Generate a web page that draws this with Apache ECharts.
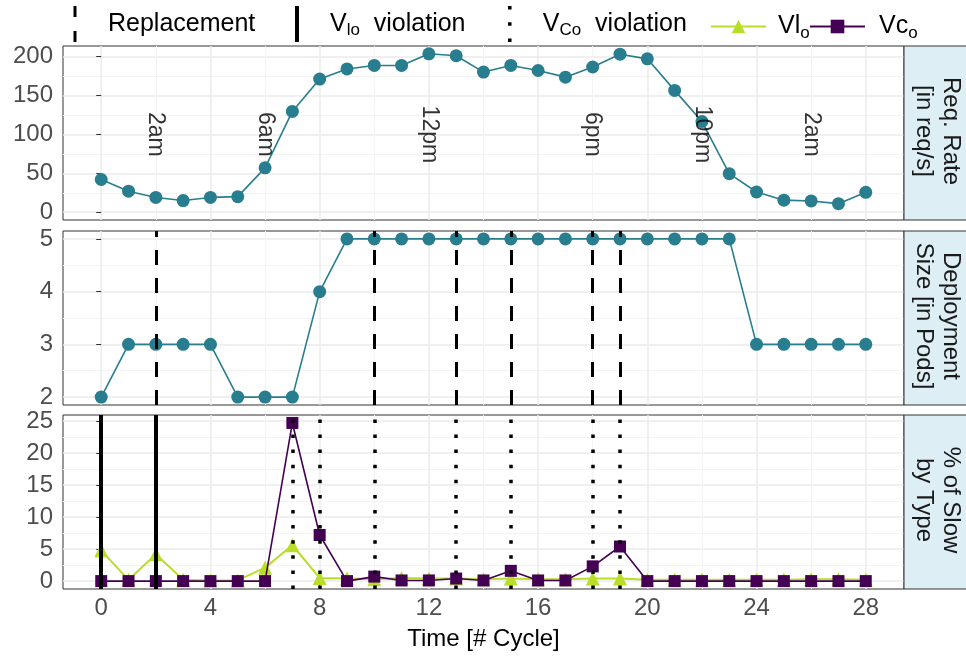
<!DOCTYPE html>
<html>
<head>
<meta charset="utf-8">
<script src="https://cdn.jsdelivr.net/npm/echarts@6/dist/echarts.min.js"></script>
<style>html,body{margin:0;padding:0;background:#fff}#c{width:966px;height:657px}</style>
</head>
<body>
<div id="c"></div>
<script>
// ---------- data ----------
const cycles = [0,1,2,3,4,5,6,7,8,9,10,11,12,13,14,15,16,17,18,19,20,21,22,23,24,25,26,27,28];
const reqRate = [42,27,19,15,19,20,57,129.5,171,184,188.5,188.5,203.5,201,180,188.5,182,173.5,186.5,203,197,156.5,116.5,49.5,26,15.5,14.5,11,25.5];
const deploySize = [2,3,3,3,3,2,2,2,4,5,5,5,5,5,5,5,5,5,5,5,5,5,5,5,3,3,3,3,3];
const slowVlo = [4.8,0.2,4.2,0.2,0.1,0.1,2.1,5.6,0.5,0.4,0.3,0.5,0.4,0.4,0.3,0.4,0.3,0.3,0.4,0.4,0.2,0.2,0.2,0.2,0.2,0.2,0.3,0.3,0.2];
const slowVco = [0,0,0,0,0,0,0,24.7,7.2,0,0.7,0.1,0.1,0.4,0.1,1.6,0.1,0.1,2.3,5.4,0,0,0,0,0,0,0,0,0];
const timeLabelX = [2,6,12,18,22,26];
const timeLabels = ['2am','6am','12pm','6pm','10pm','2am'];
const timeLabelY = 100;
const replacementX = [2,10,13,15,18,19];
const vloViolationX = [0,2];
const vcoViolationX = [7,8,10,13,15,18,19];
const xTicks = [0,4,8,12,16,20,24,28];
const xMinor = [2,6,10,14,18,22,26];
const y0Ticks = [0,50,100,150,200];
const y0Minor = [25,75,125,175];
const y1Ticks = [2,3,4,5];
const y1Minor = [2.5,3.5,4.5];
const y2Ticks = [0,5,10,15,20,25];
const y2Minor = [2.5,7.5,12.5,17.5,22.5];
const stripLabels = ['Req. Rate\n[in req/s]','Deployment\nSize [in Pods]','% of Slow\nby Type'];

// ---------- layout / style ----------
const FONT = 'Liberation Sans, Arial, Helvetica, sans-serif';
const TEAL = '#287D8E', GREEN = '#B8DE29', PURPLE = '#440154';
const gridLeft = 63, gridW = 841;
const gridTops = [46, 231, 415], gridH = 174;
const yRanges = [[-10, 213.5],[1.85, 5.15],[-1.235, 25.94]];
const yMajors = [y0Ticks, y1Ticks, y2Ticks];
const yMinors = [y0Minor, y1Minor, y2Minor];

const grids = gridTops.map(t => ({left: gridLeft, top: t, width: gridW, height: gridH,
  show: true, backgroundColor: '#fff', borderColor: '#333', borderWidth: 1}));

const xAxes = [], yAxes = [];
for (let g = 0; g < 3; g++) {
  const isBottom = g === 2;
  xAxes.push({gridIndex: g, type: 'value', min: -1.4, max: 29.4,
    axisLine: {show: false},
    axisTick: {show: isBottom, customValues: xTicks, length: 5, lineStyle: {color: '#333', width: 1}},
    axisLabel: {show: isBottom, customValues: xTicks, margin: 7, fontSize: 24, color: '#4D4D4D', fontFamily: FONT},
    splitLine: {show: true, lineStyle: {color: '#EBEBEB', width: 1.5}},
    name: isBottom ? 'Time [# Cycle]' : '', nameLocation: 'middle', nameGap: 38,
    nameTextStyle: {fontSize: 24, color: '#000', fontFamily: FONT}
  });
  xAxes.push({gridIndex: g, type: 'value', min: -1.4, max: 29.4, position: 'bottom',
    axisLine: {show: false}, axisTick: {show: false, customValues: xMinor},
    axisLabel: {show: false}, splitLine: {show: true, lineStyle: {color: '#F3F3F3', width: 1}}});
  yAxes.push({gridIndex: g, type: 'value', min: yRanges[g][0], max: yRanges[g][1],
    axisLine: {show: false},
    axisTick: {show: true, customValues: yMajors[g], length: 5, lineStyle: {color: '#333', width: 1}},
    axisLabel: {show: true, customValues: yMajors[g], margin: 10, fontSize: 24, color: '#4D4D4D', fontFamily: FONT},
    splitLine: {show: true, lineStyle: {color: '#EBEBEB', width: 1.5}}});
  yAxes.push({gridIndex: g, type: 'value', min: yRanges[g][0], max: yRanges[g][1], position: 'left',
    axisLine: {show: false}, axisTick: {show: false, customValues: yMinors[g]},
    axisLabel: {show: false}, splitLine: {show: true, lineStyle: {color: '#F3F3F3', width: 1}}});
}

const pair = (xs, ys) => xs.map((x, i) => [x, ys[i]]);

const series = [
  {name: 'reqRate', type: 'line', xAxisIndex: 0, yAxisIndex: 0, data: pair(cycles, reqRate),
   symbol: 'circle', symbolSize: 13, color: TEAL, lineStyle: {width: 1.6, color: TEAL}, z: 2, silent: true},
  {name: 'timeLabels', type: 'scatter', xAxisIndex: 0, yAxisIndex: 0,
   data: timeLabelX.map((x, i) => ({value: [x, timeLabelY], name: timeLabels[i]})),
   symbolSize: 0.1, itemStyle: {color: 'rgba(0,0,0,0)'}, z: 4, silent: true,
   label: {show: true, position: 'inside', rotate: -90, formatter: '{b}', fontSize: 23, color: '#000', fontFamily: FONT}},
  {name: 'deploy', type: 'line', xAxisIndex: 2, yAxisIndex: 2, data: pair(cycles, deploySize),
   symbol: 'circle', symbolSize: 13, color: TEAL, lineStyle: {width: 1.6, color: TEAL}, z: 2, silent: true},
  {name: 'Replacement', type: 'line', xAxisIndex: 2, yAxisIndex: 2, data: [], color: '#000', silent: true,
   markLine: {silent: true, symbol: 'none', label: {show: false}, animation: false,
     lineStyle: {color: '#000', width: 3, type: [15, 13], cap: 'butt'},
     data: replacementX.map(x => ({xAxis: x}))}},
  {name: 'Vlo', type: 'line', xAxisIndex: 4, yAxisIndex: 4, data: pair(cycles, slowVlo),
   symbol: 'triangle', symbolSize: 14, color: GREEN, lineStyle: {width: 2, color: GREEN}, z: 2, silent: true},
  {name: 'Vco', type: 'line', xAxisIndex: 4, yAxisIndex: 4, data: pair(cycles, slowVco),
   symbol: 'rect', symbolSize: 12, color: PURPLE, lineStyle: {width: 1.6, color: PURPLE}, z: 3, silent: true},
  {name: 'Vlo violation', type: 'line', xAxisIndex: 4, yAxisIndex: 4, data: [], color: '#000', silent: true,
   markLine: {silent: true, symbol: 'none', label: {show: false}, animation: false,
     lineStyle: {color: '#000', width: 4, type: 'solid'},
     data: vloViolationX.map(x => ({xAxis: x}))}},
  {name: 'Vco violation', type: 'line', xAxisIndex: 4, yAxisIndex: 4, data: [], color: '#000', silent: true,
   markLine: {silent: true, symbol: 'none', label: {show: false}, animation: false,
     lineStyle: {color: '#000', width: 3.5, type: [3.5, 11.6], cap: 'butt'},
     data: vcoViolationX.map(x => ({xAxis: x}))}}
];

const legendNames = {
  'Replacement': 'Replacement',
  'Vlo violation': '{a|V}{s|lo}{a|  violation}',
  'Vco violation': '{a|V}{s|Co}{a|  violation}',
  'Vlo': '{a|Vl}{s|o}',
  'Vco': '{a|Vc}{s|o}'
};
const LFS = 25;
const legendText = {fontSize: LFS, color: '#000', fontFamily: FONT,
  rich: {a: {fontSize: LFS, lineHeight: 30, fontFamily: FONT, color: '#000'},
         s: {fontSize: 17, verticalAlign: 'bottom', fontFamily: FONT, color: '#000'}}};
const mkLegend = (name, left, top, w, h, icon, extraPad) => ({
  left: left, top: top, padding: 0, itemWidth: w, itemHeight: h, selectedMode: false,
  data: [icon ? {name: name, icon: icon} : {name: name}],
  formatter: n => legendNames[n],
  textStyle: Object.assign({}, legendText, extraPad ? {padding: [0, 0, 0, extraPad]} : {})
});
const legends = [
  mkLegend('Replacement', 73.5, 6, 56, 36, 'path://M0,0h3v11h-3z M0,25h3v11h-3z'),
  mkLegend('Vlo violation', 295, 6, 56, 36, 'path://M0,0h4v36h-4z'),
  mkLegend('Vco violation', 508, 6, 56, 36, 'path://M0,0h3.5v3.5h-3.5z M0,16h3.5v3.5h-3.5z M0,32h3.5v3.5h-3.5z'),
  mkLegend('Vlo', 710, 14, 55, 17, null, 7),
  mkLegend('Vco', 809, 14, 55, 17, null, 9)
];

const graphics = [];
gridTops.forEach((t, i) => {
  graphics.push({type: 'rect', silent: true, shape: {x: 904, y: t, width: 70, height: gridH},
    style: {fill: '#DDEEF5', stroke: '#333', lineWidth: 1}, z: 10});
  graphics.push({type: 'text', silent: true, x: 937, y: t + gridH / 2 - 2, rotation: -Math.PI / 2, z: 11,
    style: {text: stripLabels[i], fontSize: 24, lineHeight: 27, fontFamily: FONT, fill: '#1A1A1A',
      align: 'center', verticalAlign: 'middle'}});
});

const chart = echarts.init(document.getElementById('c'), null, {renderer: 'canvas'});
chart.setOption({
  animation: false,
  backgroundColor: '#fff',
  grid: grids, xAxis: xAxes, yAxis: yAxes,
  legend: legends,
  series: series,
  graphic: graphics
});
</script>
</body>
</html>
